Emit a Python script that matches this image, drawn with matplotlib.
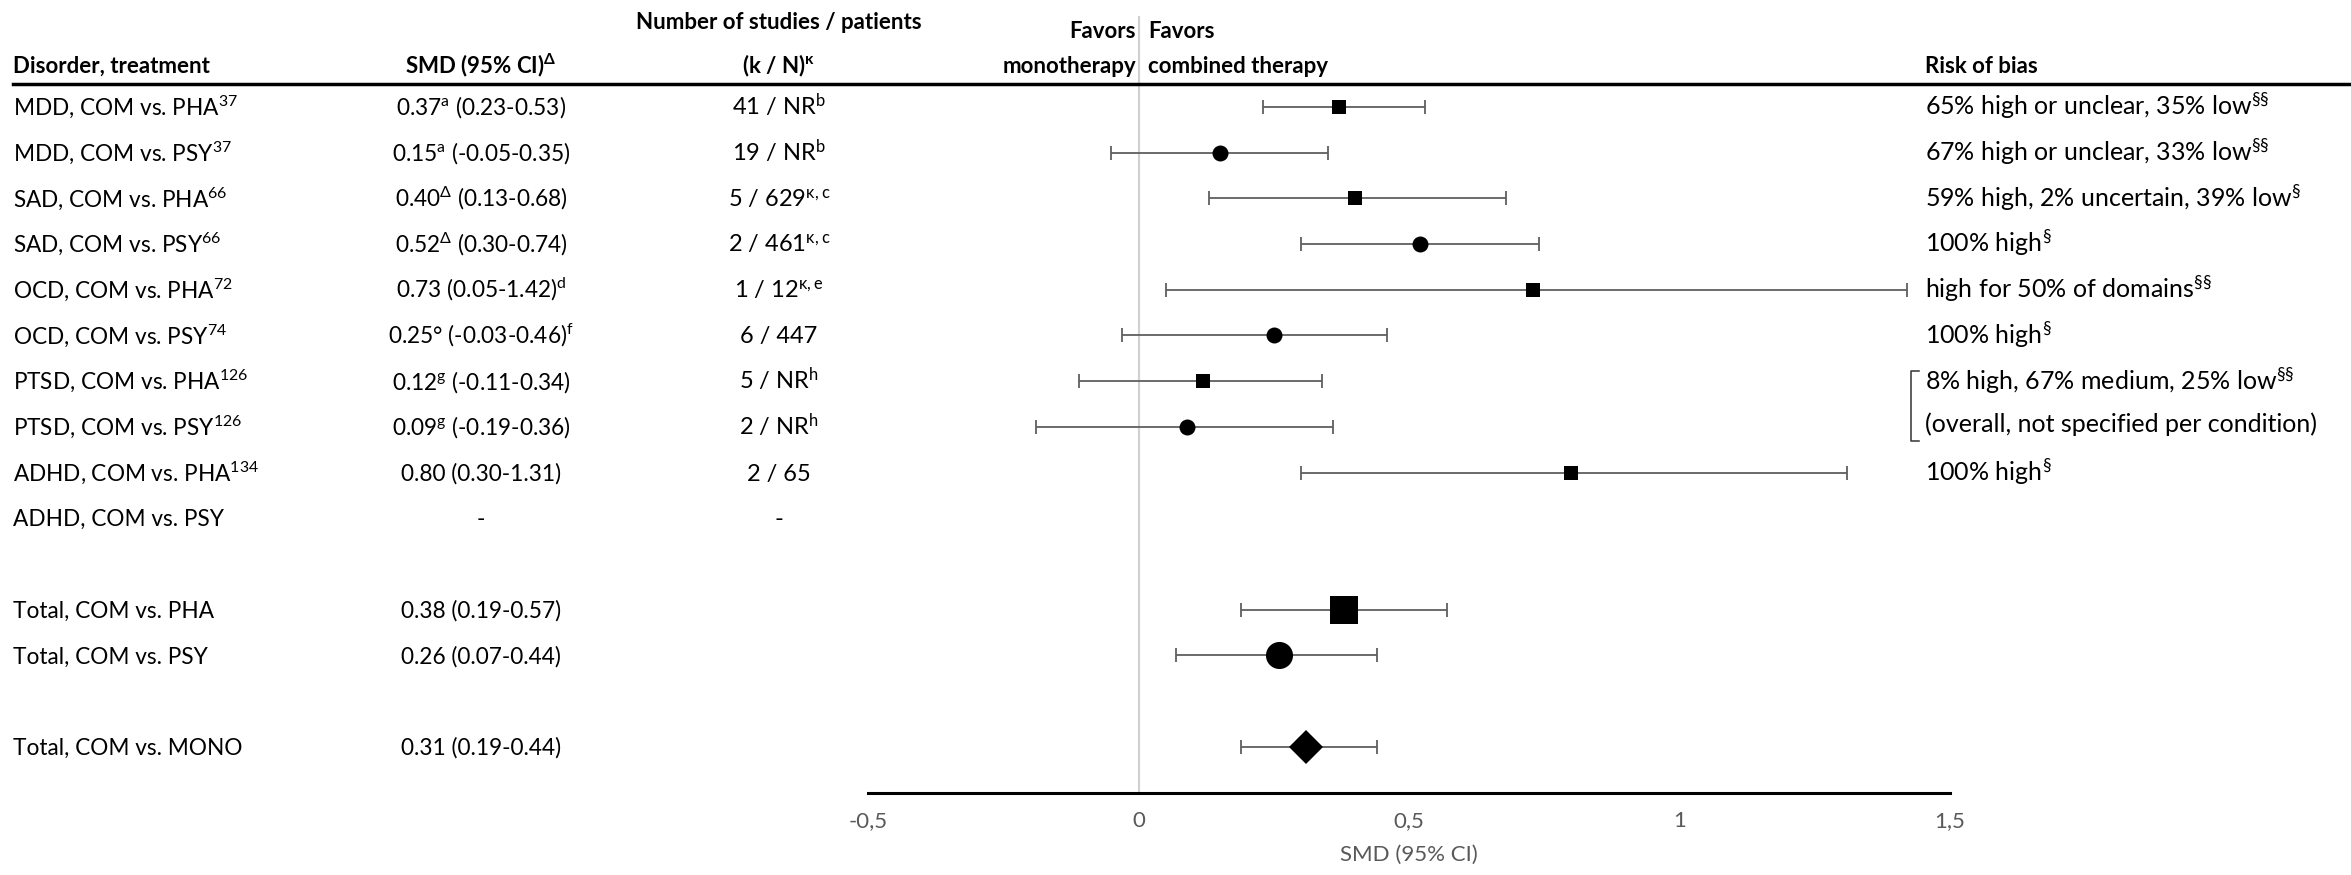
import numpy as np
import matplotlib; matplotlib.use('Agg')
import matplotlib.pyplot as plt
from matplotlib.lines import Line2D
from matplotlib.transforms import blended_transform_factory

plt.rcParams.update({'font.family': ['Lato', 'DejaVu Sans'], 'mathtext.default': 'regular'})

# ---------- data ----------
studies = ['MDD, COM vs. PHA$^{37}$', 'MDD, COM vs. PSY$^{37}$',
           'SAD, COM vs. PHA$^{66}$', 'SAD, COM vs. PSY$^{66}$',
           'OCD, COM vs. PHA$^{72}$', 'OCD, COM vs. PSY$^{74}$',
           'PTSD, COM vs. PHA$^{126}$', 'PTSD, COM vs. PSY$^{126}$',
           'ADHD, COM vs. PHA$^{134}$', 'ADHD, COM vs. PSY',
           'Total, COM vs. PHA', 'Total, COM vs. PSY', 'Total, COM vs. MONO']
comparator = ['PHA', 'PSY', 'PHA', 'PSY', 'PHA', 'PSY', 'PHA', 'PSY', 'PHA', 'PSY',
              'PHA', 'PSY', 'MONO']
is_total = [False] * 10 + [True] * 3
smd = np.array([0.37, 0.15, 0.40, 0.52, 0.73, 0.25, 0.12, 0.09, 0.80, np.nan, 0.38, 0.26, 0.31])
ci_lo = np.array([0.23, -0.05, 0.13, 0.30, 0.05, -0.03, -0.11, -0.19, 0.30, np.nan, 0.19, 0.07, 0.19])
ci_hi = np.array([0.53, 0.35, 0.68, 0.74, 1.42, 0.46, 0.34, 0.36, 1.31, np.nan, 0.57, 0.44, 0.44])
smd_text = ['0.37$^{a}$ (0.23-0.53)', '0.15$^{a}$ (-0.05-0.35)', '0.40$^{Δ}$ (0.13-0.68)',
            '0.52$^{Δ}$ (0.30-0.74)', '0.73 (0.05-1.42)$^{d}$', '0.25° (-0.03-0.46)$^{f}$',
            '0.12$^{g}$ (-0.11-0.34)', '0.09$^{g}$ (-0.19-0.36)', '0.80 (0.30-1.31)', '-',
            '0.38 (0.19-0.57)', '0.26 (0.07-0.44)', '0.31 (0.19-0.44)']
kn_text = ['41 / NR$^{b}$', '19 / NR$^{b}$', '5 / 629$^{κ,c}$', '2 / 461$^{κ,c}$',
           '1 / 12$^{κ,e}$', '6 / 447', '5 / NR$^{h}$', '2 / NR$^{h}$', '2 / 65', '-',
           '', '', '']
risk_text = ['65% high or unclear, 35% low$^{§§}$', '67% high or unclear, 33% low$^{§§}$',
             '59% high, 2% uncertain, 39% low$^{§}$', '100% high$^{§}$',
             'high for 50% of domains$^{§§}$', '100% high$^{§}$', None, None,
             '100% high$^{§}$', '', '', '', '']
ptsd_risk = ['8% high, 67% medium, 25% low$^{§§}$', '(overall, not specified per condition)']
xticks = [-0.5, 0, 0.5, 1, 1.5]
xticklabels = ['-0,5', '0', '0,5', '1', '1,5']

# ---------- layout ----------
W, H = 2351, 875
ROW0, DY = 107, 45.7          # pixel y of first row, row spacing
rows = list(range(10)) + [11, 12, 14]
def prow(py): return (py - ROW0) / DY
BASE = 8 / DY                 # text baseline below marker centre

fig = plt.figure(figsize=(W / 100, H / 100), dpi=100)
ax = fig.add_axes([868 / W, (H - 793) / H, (1950 - 868) / W, (793 - 16) / H])
ax.set_xlim(-0.5, 1.5)
ax.set_ylim(prow(793), prow(16))
for s in ['top', 'left', 'right']:
    ax.spines[s].set_visible(False)
ax.spines['bottom'].set_linewidth(2.2)
ax.set_yticks([])
ax.set_xticks(xticks)
ax.set_xticklabels(xticklabels)
ax.tick_params(axis='x', length=0, pad=13, labelsize=16, labelcolor='#595959')
ax.set_xlabel('SMD (95% CI)', fontsize=16, color='#595959', labelpad=10)
ax.axvline(0, color='#d0d0d0', lw=1.5, zorder=0)

GREY = '#5f5f5f'
shape = {'PHA': 's', 'PSY': 'o', 'MONO': 'D'}
size_small = {'s': 10, 'o': 11.5}
size_total = {'s': 19.5, 'o': 19.5, 'D': 17}
for r, m, lo, hi, comp, tot in zip(rows, smd, ci_lo, ci_hi, comparator, is_total):
    if np.isnan(m):
        continue
    ax.errorbar(m, r, xerr=[[m - lo], [hi - m]], fmt='none', ecolor=GREY,
                elinewidth=1.3, capsize=4.7, capthick=1.3, zorder=2)
    mk = shape[comp]
    ms = size_total[mk] if tot else size_small[mk]
    ax.plot(m, r, mk, color='black', ms=ms, mew=0, zorder=3)

# ---------- table text ----------
tr = blended_transform_factory(fig.transFigure, ax.transData)
def put(px, row, s, ha='left', size=16, **kw):
    ax.text(px / W, row + BASE, s, transform=tr, ha=ha, va='baseline',
            fontsize=size, clip_on=False, **kw)

for r, lab, st, kn, rk in zip(rows, studies, smd_text, kn_text, risk_text):
    put(13, r, lab, size=16.3)
    put(481, r, st, ha='center', size=16.3)
    if kn:
        put(779, r, kn, ha='center', size=17)
    if rk:
        put(1925, r, rk, size=18)

# PTSD: one shared risk-of-bias statement with a bracket
put(1925, 6, ptsd_risk[0], size=18)
ax.text(1925 / W, prow(432), ptsd_risk[1], transform=tr, ha='left', va='baseline',
        fontsize=18, clip_on=False)
bx0, bx1 = 1911 / W, 1919 / W
ax.add_line(Line2D([bx1, bx0, bx0, bx1], [prow(371), prow(371), prow(441), prow(441)],
                   transform=tr, color='#333333', lw=1.1, clip_on=False))

# headers
def head(px, py, s, ha='left', size=16):
    fig.text(px / W, 1 - py / H, s, ha=ha, va='baseline', fontsize=size, fontweight='bold')

head(13, 73, 'Disorder, treatment')
head(481, 73, 'SMD (95% CI)$^{Δ}$', ha='center')
head(779, 29, 'Number of studies / patients', ha='center')
head(779, 73, '(k / N)$^{κ}$', ha='center')
head(1136, 38, 'Favors', ha='right')
head(1148, 38, 'Favors')
head(1136, 73, 'monotherapy', ha='right')
head(1148, 73, 'combined therapy')
head(1925, 73, 'Risk of bias')
fig.add_artist(Line2D([13 / W, 1], [1 - 84 / H] * 2, transform=fig.transFigure,
                      color='black', lw=2.5))

fig.savefig('out.png', dpi=100)
